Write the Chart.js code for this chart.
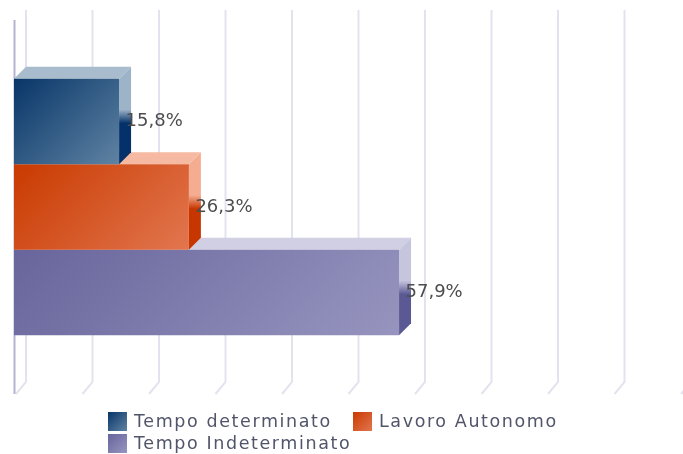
<!DOCTYPE html>
<html>
<head>
<meta charset="utf-8">
<style>html,body{margin:0;padding:0;background:#fff}canvas{display:block;filter:blur(0.6px)}</style>
<script src="https://cdn.jsdelivr.net/npm/chart.js@4"></script>
</head>
<body>
<canvas id="c" width="683" height="454"></canvas>
<script>
const categories = ['Contratti'];
const seriesNames = ['Tempo determinato', 'Lavoro Autonomo', 'Tempo Indeterminato'];
const tempoDeterminato = [15.8];
const lavoroAutonomo = [26.3];
const tempoIndeterminato = [57.9];
const valueLabels = ['15,8%', '26,3%', '57,9%'];
const frontStart = ['#083568', '#c93a00', '#67659b'];
const frontEnd = ['#5f83a3', '#e2764f', '#9795bf'];
const topFace = ['#a9bccd', '#f6b9a1', '#d0cfe3'];
const sideLight = ['#9db3c8', '#f4ad91', '#c6c5de'];
const sideDark = ['#05316a', '#c83600', '#5a5993'];

const DEPTH = 12;

function poly(ctx, pts, fill) {
  ctx.beginPath();
  pts.forEach((p, i) => i ? ctx.lineTo(p[0], p[1]) : ctx.moveTo(p[0], p[1]));
  ctx.closePath();
  ctx.fillStyle = fill;
  ctx.fill();
}

const box3d = {
  id: 'box3d',
  beforeDatasetsDraw(chart) {
    const { ctx, scales: { x }, chartArea: a } = chart;
    ctx.save();
    ctx.strokeStyle = '#e3e3ef';
    ctx.lineWidth = 2;
    x.ticks.forEach(t => {
      const px = x.getPixelForValue(t.value);
      ctx.beginPath();
      ctx.moveTo(px + DEPTH, a.top - 10);
      ctx.lineTo(px + DEPTH, a.bottom - 12);
      ctx.lineTo(px + 2, a.bottom);
      ctx.stroke();
    });
    ctx.strokeStyle = '#b4b4d2';
    ctx.beginPath();
    ctx.moveTo(a.left + 0.5, a.top);
    ctx.lineTo(a.left + 0.5, a.bottom);
    ctx.stroke();
    ctx.restore();
  },
  beforeDatasetDraw(chart, args) {
    const { ctx } = chart;
    const i = args.index;
    const bar = chart.getDatasetMeta(i).data[0];
    const l = bar.base, r = bar.x;
    const t = bar.y - bar.height / 2, b = bar.y + bar.height / 2;
    poly(ctx, [[l, t], [l + DEPTH, t - DEPTH], [r + DEPTH, t - DEPTH], [r, t]], topFace[i]);
    const g = ctx.createLinearGradient(0, t - DEPTH, 0, b);
    g.addColorStop(0, sideLight[i]);
    g.addColorStop(0.44, sideLight[i]);
    g.addColorStop(0.58, sideDark[i]);
    g.addColorStop(1, sideDark[i]);
    poly(ctx, [[r, t], [r + DEPTH, t - DEPTH], [r + DEPTH, b - DEPTH], [r, b]], g);
    const d = (r - l + b - t) / 2;
    const f = ctx.createLinearGradient(l, t, l + d, t + d);
    f.addColorStop(0, frontStart[i]);
    f.addColorStop(1, frontEnd[i]);
    bar.options = Object.assign({}, bar.options, { backgroundColor: f });
  },
  afterDatasetsDraw(chart) {
    const { ctx } = chart;
    ctx.save();
    ctx.textBaseline = 'middle';
    ctx.textAlign = 'left';
    ctx.font = '18px "DejaVu Sans"';
    ctx.fillStyle = '#4d4d4d';
    chart.data.datasets.forEach((d, i) => {
      const bar = chart.getDatasetMeta(i).data[0];
      ctx.fillText(valueLabels[i], bar.x + 6.5, bar.y);
    });
    // legend
    ctx.font = '17.5px "DejaVu Sans"';
    ctx.letterSpacing = '1.6px';
    const items = [[108, 412], [353, 412], [108, 434]];
    chart.data.datasets.forEach((d, i) => {
      const [lx, ly] = items[i];
      const g = ctx.createLinearGradient(lx, ly, lx + 19, ly + 19);
      g.addColorStop(0, frontStart[i]);
      g.addColorStop(1, frontEnd[i]);
      ctx.fillStyle = g;
      ctx.fillRect(lx, ly, 19, 19);
      ctx.fillStyle = '#50556a';
      ctx.fillText(d.label, lx + 26, ly + 10.5);
    });
    ctx.restore();
  }
};

new Chart(document.getElementById('c'), {
  type: 'bar',
  data: {
    labels: categories,
    datasets: [
      { label: seriesNames[0], data: tempoDeterminato, backgroundColor: frontStart[0] },
      { label: seriesNames[1], data: lavoroAutonomo, backgroundColor: frontStart[1] },
      { label: seriesNames[2], data: tempoIndeterminato, backgroundColor: frontStart[2] }
    ]
  },
  options: {
    indexAxis: 'y',
    responsive: false,
    animation: false,
    layout: { padding: { left: 14, right: 4, top: 20, bottom: 52 } },
    datasets: { bar: { categoryPercentage: 0.686, barPercentage: 1 } },
    scales: {
      x: {
        min: 0, max: 100,
        ticks: { stepSize: 10, display: false },
        grid: { display: false },
        border: { display: false }
      },
      y: { display: false }
    },
    plugins: { legend: { display: false }, tooltip: { enabled: false } }
  },
  plugins: [box3d]
});
</script>
</body>
</html>
